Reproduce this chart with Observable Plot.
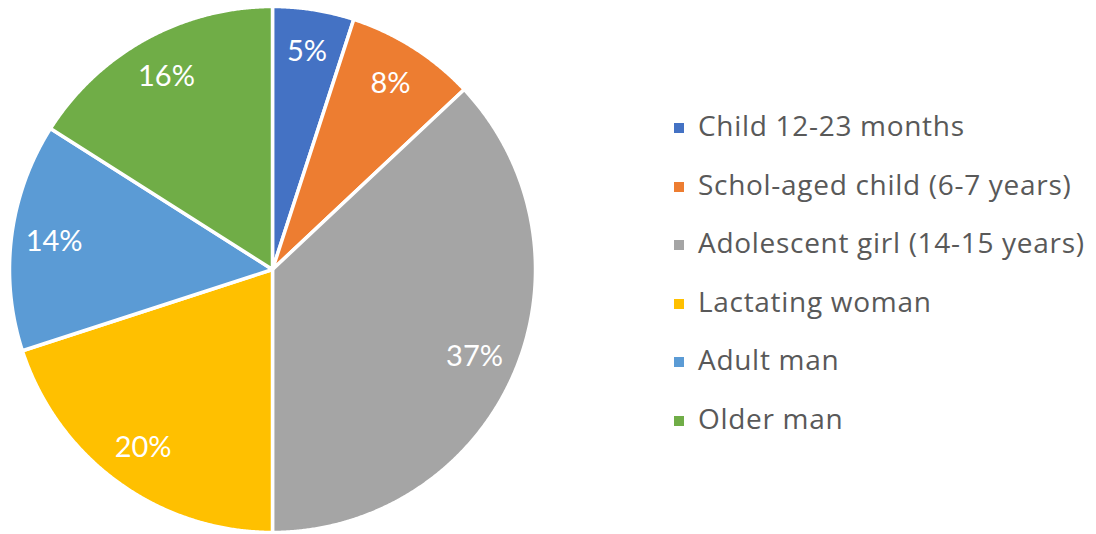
<!DOCTYPE html>
<html>
<head>
<meta charset="utf-8">
<script src="https://cdn.jsdelivr.net/npm/d3@7"></script>
<script src="https://cdn.jsdelivr.net/npm/@observablehq/plot@0.6"></script>
<style>
  html, body { margin: 0; padding: 0; background: #fff; }
  #wrap { position: relative; width: 1096px; height: 534px; overflow: hidden; }
  #chart { position: absolute; left: 0; top: 0; }
  #legend { position: absolute; left: 674px; top: 0; font-family: "Open Sans", Lato, sans-serif; color: #595959; font-size: 28px; letter-spacing: 0.7px; }
  .item { position: absolute; left: 0; white-space: nowrap; display: flex; align-items: center; height: 40px; line-height: 40px; }
  .sw { width: 10px; height: 10px; margin-right: 14px; flex: none; position: relative; top: 3px; }
</style>
</head>
<body>
<div id="wrap"><div id="chart"></div><div id="legend"></div></div>
<script>
const categories = ["Child 12-23 months", "Schol-aged child (6-7 years)", "Adolescent girl (14-15 years)", "Lactating woman", "Adult man", "Older man"];
const values = [5, 8, 37, 20, 14, 16];
const labels = ["5%", "8%", "37%", "20%", "14%", "16%"];
const colors = ["#4472C4", "#ED7D31", "#A5A5A5", "#FFC000", "#5B9BD5", "#70AD47"];

// slice geometry derived from the data via d3.pie (angles clockwise from top)
const pie = d3.pie().sort(null).value(d => d.value);
const arcs = pie(categories.map((c, i) => ({category: c, value: values[i], label: labels[i]})));

const polys = [];
for (const a of arcs) {
  const cat = a.data.category;
  polys.push({category: cat, x: 0, y: 0});
  const n = Math.max(2, Math.ceil((a.endAngle - a.startAngle) / 0.005));
  for (let k = 0; k <= n; k++) {
    const t = a.startAngle + (a.endAngle - a.startAngle) * k / n;
    polys.push({category: cat, x: Math.sin(t), y: Math.cos(t)});
  }
  polys.push({category: cat, x: 0, y: 0});
}
const labelR = 0.837;
const labelPts = arcs.map(a => {
  const t = (a.startAngle + a.endAngle) / 2;
  return {category: a.data.category, label: a.data.label, x: labelR * Math.sin(t), y: labelR * Math.cos(t)};
});

const plot = Plot.plot({
  width: 545,
  height: 534,
  marginLeft: 9, marginRight: 10,
  marginTop: 6, marginBottom: 2,
  x: {domain: [-1, 1], axis: null},
  y: {domain: [-1, 1], axis: null},
  color: {domain: categories, range: colors},
  style: {background: "transparent"},
  marks: [
    Plot.line(polys, {x: "x", y: "y", z: "category", fill: "category", stroke: "white", strokeWidth: 3.5, strokeLinejoin: "round", curve: "linear"}),
    Plot.text(labelPts, {x: "x", y: "y", text: "label", fill: "white", fontSize: 29, fontFamily: "Lato, 'Open Sans', sans-serif"})
  ]
});
document.getElementById("chart").appendChild(plot);

const color = plot.scale("color");
const legend = document.getElementById("legend");
const rowY = [125, 183.5, 242, 300.5, 359, 417.5];
categories.forEach((c, i) => {
  const it = document.createElement("div");
  it.className = "item";
  it.style.top = (rowY[i] - 20) + "px";
  const sw = document.createElement("span");
  sw.className = "sw";
  sw.style.background = color.apply(c);
  const tx = document.createElement("span");
  tx.textContent = c;
  it.appendChild(sw); it.appendChild(tx);
  legend.appendChild(it);
});
</script>
</body>
</html>
